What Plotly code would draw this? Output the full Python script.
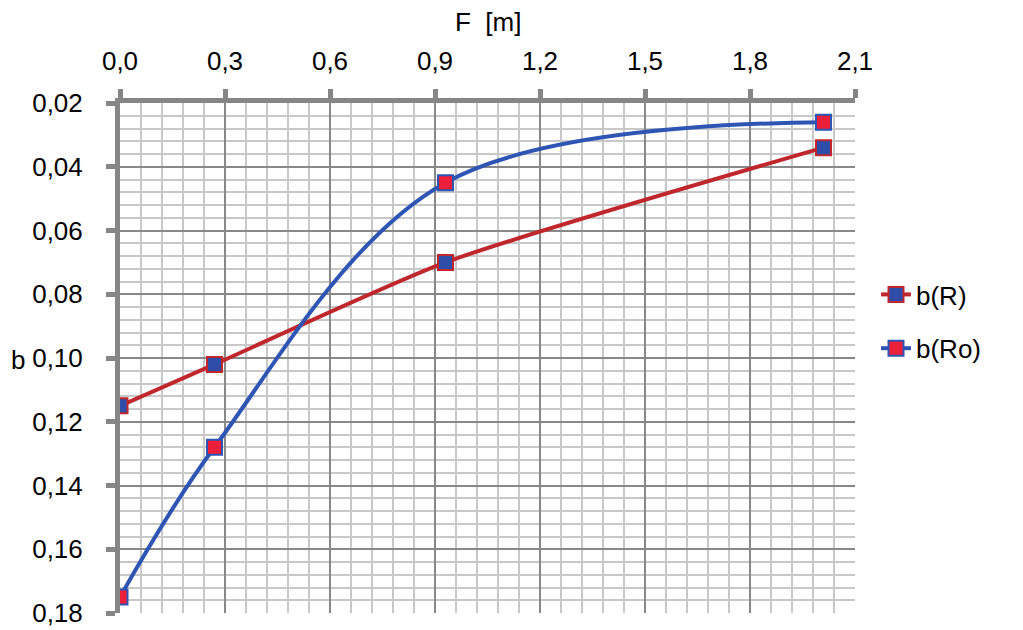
import plotly.graph_objects as go

x_R = [0.0, 0.27, 0.93, 2.01]
b_R = [0.115, 0.102, 0.070, 0.034]

x_Ro = [0.0, 0.27, 0.93, 2.01]
b_Ro = [0.175, 0.128, 0.045, 0.026]

x_ticks = [0.0, 0.3, 0.6, 0.9, 1.2, 1.5, 1.8, 2.1]
y_ticks = [0.02, 0.04, 0.06, 0.08, 0.10, 0.12, 0.14, 0.16, 0.18]

red_line = '#C0272D'
red_fill = '#EC1F3B'
blue_line = '#2E55B4'
blue_fill = '#2D4DA8'
font = 'Liberation Sans'

# page body has an 8px margin, so the figure is laid out 8px up/left
L, T, R, B = 112, 95, 176, 25
pw = 1023 - L - R
ph = 630 - T - B

fig = go.Figure()
fig.add_trace(go.Scatter(
	x=x_R, y=b_R, name='b(R)', mode='lines+markers', legendgroup='a',
	line=dict(color=red_line, width=4, shape='spline', smoothing=0.6),
	marker=dict(symbol='square', size=15, color=blue_fill,
				line=dict(color=red_line, width=2))))
fig.add_trace(go.Scatter(
	x=x_Ro, y=b_Ro, name='b(Ro)', mode='lines+markers', legendgroup='b',
	line=dict(color=blue_line, width=4, shape='spline', smoothing=1),
	marker=dict(symbol='square', size=15, color=red_fill,
				line=dict(color=blue_line, width=2))))

fig.update_layout(
	width=1023, height=630,
	margin=dict(l=L, r=R, t=T, b=B),
	paper_bgcolor='white', plot_bgcolor='white',
	separators=',.',
	font=dict(family=font, size=26, color='black'),
	showlegend=True,
	legend=dict(x=(868 - L) / pw, y=(630 - B - 263) / ph, xanchor='left', yanchor='top',
				traceorder='grouped', tracegroupgap=17,
				font=dict(size=26), bgcolor='rgba(0,0,0,0)'),
	xaxis=dict(
		range=[0, 2.1], side='top', tickvals=x_ticks, tickformat='.1f',
		automargin=False,
		showline=True, linecolor='#868686', linewidth=5,
		ticks='outside', ticklen=9, tickwidth=5, tickcolor='#868686',
		ticklabelstandoff=9,
		showgrid=True, gridcolor='#888888', gridwidth=2, zeroline=False,
		minor=dict(dtick=0.06, tick0=0, showgrid=True, gridcolor='#C8C8C8', gridwidth=2)),
	yaxis=dict(
		range=[0.18, 0.02], tickvals=y_ticks, tickformat='.2f',
		automargin=False,
		showline=True, linecolor='#868686', linewidth=5,
		ticks='outside', ticklen=9, tickwidth=5, tickcolor='#868686',
		ticklabelstandoff=18,
		showgrid=True, gridcolor='#888888', gridwidth=2, zeroline=False,
		minor=dict(dtick=0.004, tick0=0.02, showgrid=True, gridcolor='#C8C8C8', gridwidth=2)),
	annotations=[
		dict(text='F  [m]', x=0.5, y=(630 - B - 14) / ph, xref='paper', yref='paper',
			 xanchor='center', yanchor='middle', showarrow=False, font=dict(size=26)),
		dict(text='b', x=(1 - L) / pw, y=(630 - B - 352) / ph, xref='paper', yref='paper',
			 xanchor='left', yanchor='middle', showarrow=False, font=dict(size=26)),
	],
)

fig.write_html('out.html')
